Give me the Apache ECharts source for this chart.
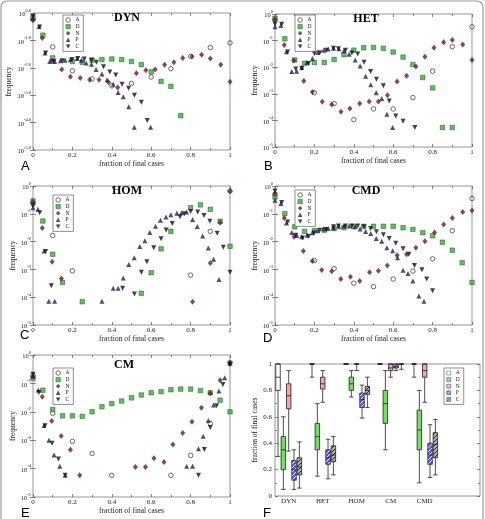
<!DOCTYPE html>
<html>
<head>
<meta charset="utf-8">
<script src="https://cdn.jsdelivr.net/npm/echarts@6/dist/echarts.min.js"></script>
<style>
  html, body { margin: 0; padding: 0; background: #fff; }
  #chart { width: 485px; height: 519px; }
</style>
</head>
<body>
<div id="chart"></div>
<script>
// ---- scatter data: [fraction of final cases, frequency] ----
const seriesKeys = ['A', 'D', 'N', 'P', 'C'];

const dynA = [[0,0.6],[0.1,0.058],[0.2,0.0078],[0.3,0.0039],[0.4,0.0022],[0.5,0.0027],[0.6,0.0046],[0.7,0.0093],[0.8,0.026],[0.9,0.055],[1,0.081]];
const dynD = [[0,0.68],[0.05,0.155],[0.1,0.023],[0.2,0.017],[0.25,0.016],[0.3,0.019],[0.35,0.020],[0.4,0.021],[0.45,0.020],[0.5,0.017],[0.55,0.013],[0.6,0.0071],[0.65,0.0032],[0.7,0.0021],[0.75,0.00018]];
const dynN = [[0,0.54],[0.047,0.123],[0.095,0.018],[0.146,0.0087],[0.19,0.0047],[0.24,0.0042],[0.288,0.0037],[0.335,0.0037],[0.383,0.0030],[0.43,0.0019],[0.525,0.0063],[0.573,0.0081],[0.62,0.0087],[0.668,0.013],[0.715,0.016],[0.76,0.023],[0.807,0.026],[0.856,0.030],[0.9,0.022],[0.953,0.013],[1,0.0031]];
const dynP = [[0,0.66],[0.03,0.32],[0.061,0.035],[0.085,0.017],[0.11,0.017],[0.139,0.018],[0.163,0.019],[0.19,0.020],[0.224,0.022],[0.246,0.019],[0.27,0.015],[0.297,0.0135],[0.32,0.0087],[0.35,0.0059],[0.376,0.0037],[0.407,0.0025],[0.432,0.00126],[0.458,0.00087],[0.486,0.00038],[0.514,0.000068],[0.597,0.000068]];
const dynC = [[0,0.75],[0.034,0.31],[0.064,0.035],[0.105,0.017],[0.149,0.018],[0.198,0.020],[0.227,0.022],[0.26,0.021],[0.297,0.019],[0.322,0.016],[0.358,0.011],[0.39,0.0071],[0.42,0.0055],[0.452,0.0025],[0.485,0.0018],[0.515,0.0010],[0.55,0.00055],[0.58,0.00012]];

const hetA = [[0,0.59],[0.2,0.0011],[0.3,0.00043],[0.4,0.000107],[0.5,0.00027],[0.6,0.00027],[0.7,0.00072],[0.8,0.0071],[0.9,0.059],[1,0.33]];
const hetD = [[0,0.69],[0.05,0.117],[0.1,0.0186],[0.15,0.014],[0.2,0.015],[0.25,0.015],[0.3,0.0195],[0.35,0.0295],[0.4,0.0437],[0.45,0.0537],[0.5,0.055],[0.55,0.0513],[0.6,0.0372],[0.65,0.024],[0.7,0.0126],[0.75,0.0041],[0.8,0.00166],[0.85,0.000054],[0.9,0.000054]];
const hetN = [[0,0.63],[0.047,0.068],[0.095,0.0178],[0.146,0.003],[0.19,0.00117],[0.24,0.0005],[0.288,0.0004],[0.335,0.00021],[0.38,0.00028],[0.43,0.00043],[0.478,0.00051],[0.525,0.00051],[0.571,0.00089],[0.62,0.0029],[0.668,0.0048],[0.715,0.0107],[0.761,0.0245],[0.807,0.054],[0.856,0.087],[0.9,0.105],[0.953,0.072],[1,0.0186]];
const hetP = [[0,0.33],[0.03,0.37],[0.058,0.038],[0.085,0.0069],[0.11,0.0071],[0.136,0.0098],[0.163,0.0151],[0.19,0.0214],[0.217,0.036],[0.247,0.0437],[0.27,0.048],[0.297,0.0513],[0.324,0.049],[0.35,0.0417],[0.376,0.031],[0.407,0.0186],[0.432,0.011],[0.46,0.0046],[0.486,0.0022],[0.514,0.0011],[0.542,0.00066],[0.568,0.00017],[0.597,0.000054]];
const hetC = [[0,0.42],[0.034,0.41],[0.064,0.037],[0.105,0.0085],[0.136,0.0089],[0.17,0.0138],[0.2,0.033],[0.227,0.0347],[0.26,0.0437],[0.297,0.0513],[0.322,0.049],[0.358,0.0437],[0.39,0.034],[0.42,0.0316],[0.452,0.0155],[0.485,0.0069],[0.515,0.0035],[0.55,0.002],[0.58,0.00054],[0.613,0.000145],[0.65,0.000093],[0.71,0.000054]];

const homA = [[0,0.23],[0.1,0.0166],[0.2,0.00089],[0.8,0.00062],[0.9,0.0234],[1,0.66]];
const homD = [[0,0.29],[0.05,0.055],[0.1,0.0035],[0.15,0.00034],[0.25,0.000069],[0.55,0.000138],[0.6,0.00076],[0.65,0.0055],[0.7,0.0234],[0.8,0.166],[0.85,0.209],[0.9,0.145],[0.95,0.054],[1,0.0068]];
const homN = [[0,0.27],[0.047,0.031],[0.097,0.0019],[0.144,0.00047],[0.81,0.000069],[0.9,0.0017],[0.95,0.048],[1,0.65]];
const homP = [[0,0.166],[0.025,0.145],[0.056,0.0046],[0.08,0.000072],[0.11,0.000072],[0.35,0.000072],[0.407,0.00021],[0.432,0.00021],[0.458,0.00049],[0.486,0.0015],[0.514,0.0026],[0.542,0.0066],[0.568,0.0107],[0.593,0.0214],[0.622,0.036],[0.647,0.059],[0.675,0.076],[0.7,0.093],[0.73,0.105],[0.754,0.11],[0.78,0.117],[0.81,0.062],[0.834,0.035],[0.861,0.016],[0.89,0.0059],[0.917,0.0023],[0.944,0.00043]];
const homC = [[0,0.2],[0.034,0.11],[0.064,0.0044],[0.093,0.00026],[0.455,0.00021],[0.515,0.00013],[0.55,0.00079],[0.578,0.0019],[0.613,0.006],[0.65,0.0126],[0.676,0.026],[0.707,0.045],[0.746,0.078],[0.768,0.1],[0.8,0.12],[0.836,0.117],[0.868,0.087],[0.898,0.054],[0.935,0.02],[0.966,0.0062],[1,0.00079]];

const cmdA = [[0,0.5],[0.2,0.0021],[0.3,0.00107],[0.4,0.00032],[0.5,0.00024],[0.6,0.00045],[0.7,0.00087],[0.8,0.0024],[0.9,0.0245],[1,0.355]];
const cmdD = [[0,0.4],[0.05,0.102],[0.1,0.034],[0.15,0.0234],[0.2,0.025],[0.25,0.0257],[0.3,0.0295],[0.35,0.0316],[0.4,0.0347],[0.45,0.0355],[0.5,0.0355],[0.55,0.0355],[0.6,0.0355],[0.65,0.0316],[0.7,0.0275],[0.75,0.0209],[0.8,0.0162],[0.85,0.0095],[0.9,0.0049],[0.95,0.00174],[1,0.00034]];
const cmdN = [[0,0.54],[0.047,0.071],[0.097,0.0148],[0.144,0.0046],[0.19,0.002],[0.237,0.00095],[0.288,0.00085],[0.334,0.00045],[0.383,0.00054],[0.43,0.00038],[0.48,0.00079],[0.525,0.00089],[0.57,0.00138],[0.62,0.0032],[0.668,0.0035],[0.715,0.006],[0.761,0.0103],[0.81,0.0214],[0.856,0.041],[0.9,0.071],[0.953,0.115],[1,0.132]];
const cmdP = [[0,0.31],[0.03,0.234],[0.058,0.047],[0.085,0.0214],[0.11,0.0166],[0.136,0.0148],[0.163,0.017],[0.19,0.0209],[0.217,0.0245],[0.247,0.0288],[0.27,0.0295],[0.297,0.0316],[0.324,0.0355],[0.35,0.0363],[0.376,0.0363],[0.407,0.0339],[0.432,0.0282],[0.46,0.0229],[0.486,0.0195],[0.514,0.0129],[0.542,0.0102],[0.568,0.006],[0.597,0.0047],[0.622,0.0026],[0.65,0.00093],[0.675,0.00071],[0.7,0.00038],[0.73,0.00011],[0.756,0.000072]];
const cmdC = [[0,0.66],[0.034,0.257],[0.064,0.051],[0.105,0.017],[0.14,0.0135],[0.17,0.0155],[0.198,0.0204],[0.227,0.0257],[0.26,0.0275],[0.297,0.0339],[0.322,0.0363],[0.358,0.0363],[0.39,0.0363],[0.42,0.0363],[0.452,0.0339],[0.485,0.0295],[0.515,0.0224],[0.55,0.0178],[0.58,0.0129],[0.613,0.0087],[0.65,0.0055],[0.68,0.0035],[0.708,0.00138],[0.746,0.00098],[0.77,0.00045],[0.8,0.00017]];

const cmA = [[0,0.195],[0.1,0.0089],[0.2,0.00091],[0.3,0.00034],[0.4,0.000058],[0.7,0.000058],[0.8,0.00029],[0.9,0.0039],[1,0.54]];
const cmD = [[0,0.15],[0.05,0.0575],[0.1,0.012],[0.15,0.0072],[0.2,0.0072],[0.25,0.0069],[0.3,0.01],[0.35,0.0151],[0.4,0.0195],[0.45,0.024],[0.5,0.031],[0.55,0.039],[0.6,0.0468],[0.65,0.0513],[0.7,0.06],[0.75,0.063],[0.8,0.063],[0.85,0.056],[0.9,0.0468],[0.95,0.0257],[1,0.01]];
const cmN = [[0,0.18],[0.047,0.034],[0.095,0.0047],[0.143,0.0014],[0.19,0.00046],[0.237,0.000058],[0.52,0.000115],[0.571,0.000115],[0.614,0.00023],[0.665,0.00017],[0.71,0.0007],[0.76,0.0018],[0.807,0.0045],[0.855,0.0138],[0.9,0.045],[0.95,0.13],[1,0.5]];
const cmP = [[0,0.18],[0.027,0.058],[0.056,0.0033],[0.081,0.001],[0.107,0.0003],[0.136,0.00012],[0.163,0.000058],[0.78,0.00012],[0.81,0.00012],[0.84,0.0005],[0.864,0.00138],[0.89,0.0049],[0.917,0.0174],[0.944,0.054],[0.973,0.158],[1,0.51]];
const cmC = [[0,0.21],[0.03,0.048],[0.061,0.0032],[0.097,0.00078],[0.129,0.00022],[0.163,0.000058],[0.84,0.000058],[0.87,0.00047],[0.9,0.0028],[0.932,0.0162],[0.964,0.091],[1,0.48]];

// ---- box plot data (panel F): [min, Q1, median, Q3, max] per scenario ----
const boxCats = ['DYN', 'HET', 'HOM', 'CM', 'CMD'];
const boxA = [[0.30,0.80,0.90,1.0,1.0],[0.90,1.0,1.0,1.0,1.0],[1.0,1.0,1.0,1.0,1.0],[1.0,1.0,1.0,1.0,1.0],[0.90,1.0,1.0,1.0,1.0]];
const boxD = [[0.05,0.20,0.35,0.45,0.60],[0.15,0.35,0.45,0.55,0.70],[0.75,0.80,0.85,0.90,0.95],[0.35,0.55,0.70,0.80,0.95],[0.10,0.35,0.50,0.65,0.80]];
const boxN = [[0.34,0.66,0.76,0.85,0.95],[0.71,0.81,0.85,0.90,0.95],[0.95,1.0,1.0,1.0,1.0],[0.90,0.95,0.97,1.0,1.0],[0.71,0.90,0.95,1.0,1.0]];
const boxP = [[0.05,0.12,0.20,0.27,0.35],[0.13,0.24,0.29,0.35,0.43],[0.59,0.67,0.73,0.78,0.84],[0.95,0.97,0.98,1.0,1.0],[0.14,0.24,0.31,0.40,0.54]];
const boxC = [[0.06,0.16,0.22,0.29,0.41],[0.16,0.26,0.31,0.38,0.45],[0.67,0.77,0.80,0.83,0.90],[0.96,1.0,1.0,1.0,1.0],[0.16,0.29,0.39,0.48,0.58]];

const SERIF = '"Liberation Serif", "DejaVu Serif", serif';
const SANS = '"Liberation Sans", "DejaVu Sans", sans-serif';
const LINE = '#8a8a8a';
const INK = '#222';

const panels = [
  { title: 'DYN', letter: 'A', data: [dynA, dynD, dynN, dynP, dynC], box: [33, 13, 197, 137], legend: [63, 15], titleAt: [127, 12], letterAt: [21, 160], decimals: true },
  { title: 'HET', letter: 'B', data: [hetA, hetD, hetN, hetP, hetC], box: [275, 14, 197, 133], legend: [295, 15], titleAt: [366, 13], letterAt: [264, 160] },
  { title: 'HOM', letter: 'C', data: [homA, homD, homN, homP, homC], box: [33, 186, 197, 139], legend: [53, 195], titleAt: [127, 185], letterAt: [20, 329] },
  { title: 'CMD', letter: 'D', data: [cmdA, cmdD, cmdN, cmdP, cmdC], box: [275, 186, 197, 139], legend: [295, 190], titleAt: [366, 185], letterAt: [263, 332] },
  { title: 'CM', letter: 'E', data: [cmA, cmD, cmN, cmP, cmC], box: [33, 355, 197, 142], legend: [53, 368], titleAt: [124, 359], letterAt: [21, 507] },
];

const marks = {
  A: { symbol: 'circle', symbolSize: 4.5, itemStyle: { color: 'rgba(255,255,255,0)', borderColor: '#333', borderWidth: 0.9 } },
  D: { symbol: 'rect', symbolSize: 4.5, itemStyle: { color: '#34b234', borderColor: '#1d4d1d', borderWidth: 0.6 } },
  N: { symbol: 'diamond', symbolSize: [5, 6], itemStyle: { color: '#6a1b2b' } },
  P: { symbol: 'triangle', symbolSize: 5, itemStyle: { color: '#1f1f5e' } },
  C: { symbol: 'path://M0,0L10,0L5,9Z', symbolSize: 5, itemStyle: { color: '#111' } },
};

function hatch(bg, fg) {
  const c = document.createElement('canvas');
  c.width = 4; c.height = 4;
  const g = c.getContext('2d');
  g.fillStyle = bg; g.fillRect(0, 0, 4, 4);
  g.strokeStyle = fg; g.lineWidth = 1;
  g.beginPath();
  g.moveTo(0, 4); g.lineTo(4, 0);
  g.moveTo(-1, 1); g.lineTo(1, -1);
  g.moveTo(3, 5); g.lineTo(5, 3);
  g.stroke();
  return { image: c, repeat: 'repeat' };
}

const boxFill = {
  A: '#ffffff',
  D: '#6fe060',
  N: '#f2a5a5',
  P: hatch('#5b5bef', '#ffffff'),
  C: hatch('#b0b0b0', '#222222'),
};
const boxData = { A: boxA, D: boxD, N: boxN, P: boxP, C: boxC };

const tickStyle = { lineStyle: { color: '#555', width: 0.7 } };
const labelFont = { fontSize: 7, fontFamily: SERIF, color: INK };
const nameFont = { fontSize: 7.5, fontFamily: SERIF, color: INK };

const grids = [], xAxes = [], yAxes = [], series = [], legends = [], graphics = [];

function xAxisFor(gi, pos) {
  return {
    gridIndex: gi, type: 'value', min: 0, max: 1, interval: 0.2, position: pos,
    axisLine: { show: false },
    axisTick: { inside: true, length: 3, ...tickStyle },
    minorTick: { show: true, splitNumber: 2, length: 2, ...tickStyle },
    splitLine: { show: false },
    axisLabel: pos === 'bottom' ? { ...labelFont, margin: 2 } : { show: false },
    name: pos === 'bottom' ? 'fraction of final cases' : '',
    nameLocation: 'middle', nameGap: 9, nameTextStyle: nameFont,
  };
}

function yAxisFor(gi, pos, decimals) {
  return {
    gridIndex: gi, type: 'log', logBase: 10, min: 1e-5, max: 1, position: pos,
    axisLine: { show: false },
    axisTick: { inside: true, length: 3, ...tickStyle },
    splitLine: { show: false },
    axisLabel: pos === 'left' ? {
      margin: 2,
      formatter: (v) => {
        const e = Math.round(Math.log10(v));
        return '{b|10}{s|' + (decimals ? e.toFixed(1) : e) + '}';
      },
      rich: {
        b: { fontSize: 6.5, fontFamily: SERIF, color: INK, verticalAlign: 'bottom', lineHeight: 10 },
        s: { fontSize: 4.5, fontFamily: SERIF, color: INK, verticalAlign: 'top', lineHeight: 10 },
      },
    } : { show: false },
    name: pos === 'left' ? 'frequency' : '',
    nameLocation: 'middle', nameGap: 16, nameTextStyle: nameFont,
  };
}

const legendIcons = {
  A: { icon: 'circle', itemStyle: { color: '#fff', borderColor: '#222', borderWidth: 0.8 } },
  D: { icon: 'rect', itemStyle: { color: '#34b234', borderColor: '#1d4d1d', borderWidth: 0.5 } },
  N: { icon: 'diamond', itemStyle: { color: '#6a1b2b', borderWidth: 0 } },
  P: { icon: 'triangle', itemStyle: { color: '#1f1f5e', borderWidth: 0 } },
  C: { icon: 'path://M0,0L10,0L5,9Z', itemStyle: { color: '#111', borderWidth: 0 } },
};

function legendAt(pos, items, size) {
  return {
    left: pos[0], top: pos[1], orient: 'vertical', selectedMode: false,
    itemWidth: size, itemHeight: size, itemGap: 0.6, padding: [2, 4, 2, 2.5],
    borderColor: '#444', borderWidth: 0.6, backgroundColor: '#fff',
    textStyle: { fontSize: 5.5, lineHeight: 5.4, fontFamily: SERIF, color: INK },
    data: items,
  };
}

panels.forEach((p, gi) => {
  grids.push({ left: p.box[0], top: p.box[1], width: p.box[2], height: p.box[3], show: true, borderColor: LINE, borderWidth: 0.9, outerBoundsMode: 'none' });
  const xi = xAxes.length;
  xAxes.push(xAxisFor(gi, 'bottom'), xAxisFor(gi, 'top'));
  const yi = yAxes.length;
  yAxes.push(yAxisFor(gi, 'left', p.decimals), yAxisFor(gi, 'right', p.decimals));
  seriesKeys.forEach((k, si) => {
    series.push({ type: 'scatter', name: k, xAxisIndex: xi, yAxisIndex: yi, data: p.data[si], silent: true, ...marks[k] });
  });
  legends.push(legendAt(p.legend, seriesKeys.map((k) => ({ name: k, ...legendIcons[k] })), 4.5));
  graphics.push({ type: 'text', x: p.titleAt[0], y: p.titleAt[1], style: { text: p.title, font: 'bold 12px ' + SERIF, fill: '#000', align: 'center', verticalAlign: 'top' } });
  graphics.push({ type: 'text', x: p.letterAt[0], y: p.letterAt[1], style: { text: p.letter, font: '13px ' + SANS, fill: '#000', verticalAlign: 'top' } });
});

// panel F: boxes grid (category bands) + frame grid (ticks and labels)
const boxGi = grids.length;
grids.push({ left: 271.7, top: 364, width: 204, height: 132, show: false, outerBoundsMode: 'none' });
const boxXi = xAxes.length;
xAxes.push({
  gridIndex: boxGi, type: 'category', data: [...boxCats, ''],
  axisLine: { show: false }, axisTick: { show: false },
  axisLabel: { ...labelFont, margin: 2 },
});
const boxYi = yAxes.length;
yAxes.push({ gridIndex: boxGi, type: 'value', min: 0, max: 1, show: false });

const frameGi = grids.length;
grids.push({ left: 275, top: 364, width: 205, height: 132, show: true, borderColor: LINE, borderWidth: 0.9, outerBoundsMode: 'none' });
xAxes.push({ gridIndex: frameGi, type: 'value', min: 0, max: 1, show: false });
['left', 'right'].forEach((pos) => {
  yAxes.push({
    gridIndex: frameGi, type: 'value', min: 0, max: 1, interval: 0.2, position: pos,
    axisLine: { show: false },
    axisTick: { inside: true, length: 3, ...tickStyle },
    minorTick: { show: true, splitNumber: 2, length: 2, ...tickStyle },
    splitLine: { show: false },
    axisLabel: pos === 'left' ? { ...labelFont, margin: 3 } : { show: false },
    name: pos === 'left' ? 'fraction of final cases' : '',
    nameLocation: 'middle', nameGap: 12, nameTextStyle: nameFont,
  });
});

seriesKeys.forEach((k) => {
  series.push({
    type: 'boxplot', name: k, xAxisIndex: boxXi, yAxisIndex: boxYi,
    boxWidth: [4.5, 4.5], silent: true,
    itemStyle: { color: boxFill[k], borderColor: '#222', borderWidth: 0.8 },
    data: boxData[k],
  });
});
legends.push(legendAt([444, 368], seriesKeys.map((k) => ({ name: k, icon: 'rect', itemStyle: { color: boxFill[k], borderColor: '#222', borderWidth: 0.5 } })), 4));
graphics.push({ type: 'text', x: 263, y: 507, style: { text: 'F', font: '13px ' + SANS, fill: '#000', verticalAlign: 'top' } });

// outer frame of the figure
graphics.push({ type: 'rect', shape: { x: 1, y: 1, width: 482, height: 560, r: 6 }, style: { fill: 'none', stroke: '#9a9a9a', lineWidth: 1.2 }, silent: true, z: -10 });

const chart = echarts.init(document.getElementById('chart'), null, { renderer: 'canvas' });
chart.setOption({
  backgroundColor: '#fff',
  animation: false,
  grid: grids,
  xAxis: xAxes,
  yAxis: yAxes,
  legend: legends,
  series,
  graphic: { elements: graphics },
});
</script>
</body>
</html>
